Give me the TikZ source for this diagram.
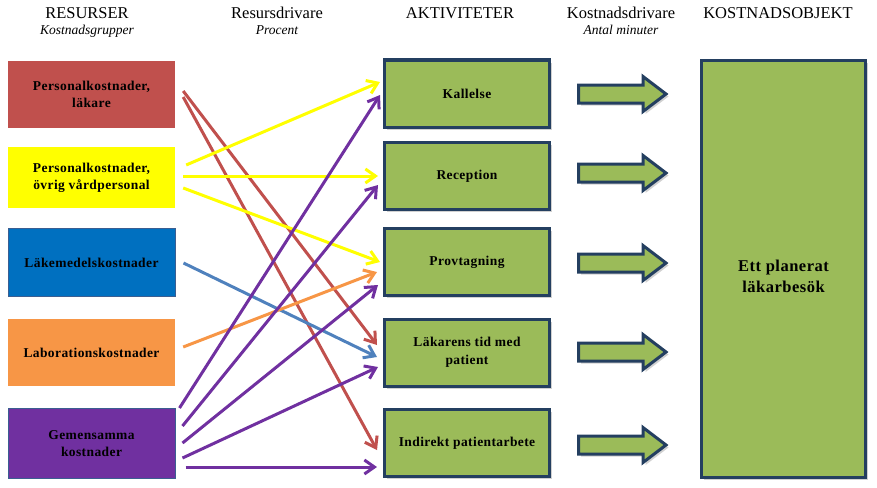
\documentclass[tikz,border=0pt]{standalone}
\usepackage{fontspec}
\setmainfont{Liberation Serif}
\newfontfamily\boxfont{Liberation Serif}[LetterSpace=3]
\usetikzlibrary{arrows.meta,shadows,calc}
\definecolor{cred}{HTML}{C0504D}
\definecolor{cyel}{HTML}{FFFF00}
\definecolor{cblue}{HTML}{0070C0}
\definecolor{cora}{HTML}{F79646}
\definecolor{cpur}{HTML}{7030A0}
\definecolor{cgreen}{HTML}{9BBB59}
\definecolor{cnavy}{HTML}{243F60}
\definecolor{cline}{HTML}{4F81BD}
\definecolor{cedge}{HTML}{3B5E91}
\begin{document}
\begin{tikzpicture}[x=1pt,y=-1pt,
  hdr/.style={anchor=base, inner sep=0pt, font=\fontsize{16.5}{18}\selectfont},
  sub/.style={anchor=base, inner sep=0pt, font=\fontsize{13.5}{15}\selectfont\itshape},
  resbox/.style={minimum width=167pt, inner sep=0pt, align=center, text=black,
    font=\boxfont\fontsize{13.5}{17}\selectfont\bfseries},
  actbox/.style={draw=cnavy, line width=3pt, fill=cgreen, minimum width=165pt,
    minimum height=67pt, inner sep=0pt, align=center,
    drop shadow={shadow xshift=2.5pt, shadow yshift=-2.5pt, fill=black!30, opacity=0.6},
    font=\boxfont\fontsize{13.5}{18}\selectfont\bfseries},
  blockarrow/.style={draw=cnavy, line width=3pt, fill=cgreen, line join=miter,
    drop shadow={shadow xshift=2.5pt, shadow yshift=-2.5pt, fill=black!30, opacity=0.6}},
  conn/.style={line width=3pt, -{Straight Barb[length=10pt,width=14pt]}}
]
\useasboundingbox (0,0) rectangle (877,487);

% headers
\node[hdr] (h1) at (87,19) {RESURSER};
\node[sub] (s1) at (87,35) {Kostnadsgrupper};
\node[hdr] (h2) at (277,19) {Resursdrivare};
\node[sub] (s2) at (277,35) {Procent};
\node[hdr] (h3) at (460,19) {AKTIVITETER};
\node[hdr] (h4) at (621,19) {Kostnadsdrivare};
\node[sub] (s4) at (621,35) {Antal minuter};
\node[hdr] (h5) at (778,19) {KOSTNADSOBJEKT};

% resources
\node[resbox, fill=cred, minimum height=67pt] (r) at (91.5,94.5) {Personalkostnader,\\läkare};
\node[resbox, fill=cyel, minimum height=61pt] (y) at (91.5,177.5) {Personalkostnader,\\övrig vårdpersonal};
\node[resbox, fill=cblue, draw=cedge, line width=1pt, minimum height=68pt] (b) at (91.5,262.5) {Läkemedelskostnader};
\node[resbox, fill=cora, minimum height=67pt] (o) at (91.5,352.5) {Laborationskostnader};
\node[resbox, fill=cpur, draw=cedge, line width=1pt, minimum height=70pt] (p) at (91.5,443.5) {Gemensamma\\kostnader};

% activities
\node[actbox] (k)  at (467,93.5) {Kallelse};
\node[actbox] (rc) at (467,176) {Reception};
\node[actbox] (pv) at (467,262) {Provtagning};
\node[actbox] (lk) at (467,352.5) {Läkarens tid med\\patient};
\node[actbox] (ip) at (467,443) {Indirekt patientarbete};

% cost object
\node[actbox, minimum width=164pt, minimum height=417pt] (obj) at (783.5,269) {};
\node[align=center, inner sep=0pt, font=\boxfont\fontsize{16.5}{21}\selectfont\bfseries] (objt) at (783.5,276) {Ett planerat\\läkarbesök};

% block arrows
\foreach \yy in {94,173,263,352,445}{
  \path[blockarrow] (578.5,\yy-9) -- (643,\yy-9) -- (643,\yy-17.5) -- (666,\yy)
     -- (643,\yy+17.5) -- (643,\yy+9) -- (578.5,\yy+9) -- cycle;
}

% connectors
\draw[conn, cred] ($(r.east)+(8,-3.5)$) -- ($(lk.west)+(-6,-7.5)$);
\draw[conn, cred] ($(r.east)+(8,2.5)$) -- ($(ip.west)+(-6,7)$);
\draw[conn, cyel] ($(y.east)+(11,-12.5)$) -- ($(k.west)+(-3,-11.5)$);
\draw[conn, cyel] ($(y.east)+(8,-1.5)$) -- ($(rc.west)+(-5,0)$);
\draw[conn, cyel] ($(y.east)+(8,10.5)$) -- ($(pv.west)+(-3,0)$);
\draw[conn, cline] ($(b.east)+(8,0.5)$) -- ($(lk.west)+(-6,4.5)$);
\draw[conn, cora] ($(o.east)+(8,-5.5)$) -- ($(pv.west)+(-6,10)$);
\draw[conn, cpur] ($(p.east)+(4,-35.5)$) -- ($(k.west)+(-3,1.5)$);
\draw[conn, cpur] ($(p.east)+(7,-17.5)$) -- ($(rc.west)+(-5,9)$);
\draw[conn, cpur] ($(p.east)+(7,-0.5)$) -- ($(pv.west)+(-5,23)$);
\draw[conn, cpur] ($(p.east)+(7,14.5)$) -- ($(lk.west)+(-5,14.5)$);
\draw[conn, cpur] ($(p.east)+(10,23.5)$) -- ($(ip.west)+(-6,24)$);
\end{tikzpicture}
\end{document}
